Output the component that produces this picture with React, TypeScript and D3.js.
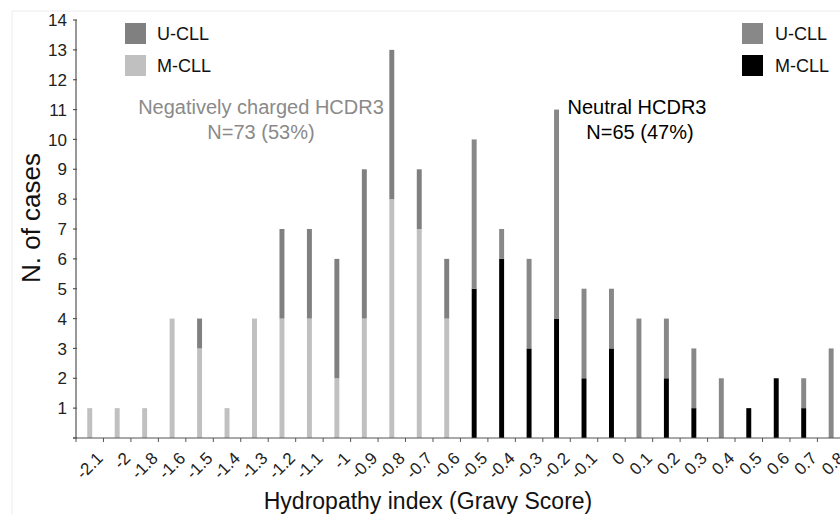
import React from "react";
import * as d3 from "d3";

const categories = ["-2.1","-2","-1.8","-1.6","-1.5","-1.4","-1.3","-1.2","-1.1","-1","-0.9","-0.8","-0.7","-0.6","-0.5","-0.4","-0.3","-0.2","-0.1","0","0.1","0.2","0.3","0.4","0.5","0.6","0.7","0.8"];
const mcllValues = [1,1,1,4,3,1,4,4,4,2,4,8,7,4, 5,6,3,4,2,3,0,2,1,0,1,2,1,0];
const ucllValues = [0,0,0,0,1,0,0,3,3,4,5,5,2,2, 5,1,3,7,3,2,4,2,2,2,0,0,1,3];
const chargeGroup = ["neg","neg","neg","neg","neg","neg","neg","neg","neg","neg","neg","neg","neg","neg","neu","neu","neu","neu","neu","neu","neu","neu","neu","neu","neu","neu","neu","neu"];
const yTicks = [1,2,3,4,5,6,7,8,9,10,11,12,13,14];

const colors: Record<string, { u: string; m: string }> = {
  neg: { u: "#808080", m: "#c0c0c0" },
  neu: { u: "#888888", m: "#000000" },
};

const FONT = "'Liberation Sans', Arial, sans-serif";

export default function App() {
  const W = 840, H = 514;
  const x0 = 76, step = 27.46;
  const x = d3.scaleBand<string>().domain(categories).range([x0, x0 + step * categories.length]).paddingInner(0.82).paddingOuter(0.41);
  const y = d3.scaleLinear().domain([0, 14]).range([438, 20]);
  const bw = x.bandwidth();

  return (
    <svg width={W} height={H} style={{ position: "absolute", left: 0, top: 0, background: "#fff" }} fontFamily={FONT}>
      <rect x={0} y={0} width={W} height={H} fill="#fff" />
      {/* faint frame */}
      <line x1={12} x2={W} y1={11} y2={11} stroke="#ececec" />
      <line x1={12} x2={12} y1={11} y2={H} stroke="#ececec" />

      {/* bars */}
      {categories.map((c, i) => {
        const g = colors[chargeGroup[i]];
        const m = mcllValues[i], u = ucllValues[i];
        const bx = x(c)!;
        return (
          <g key={c}>
            {m > 0 && <rect x={bx} width={bw} y={y(m)} height={y(0) - y(m)} fill={g.m} />}
            {u > 0 && <rect x={bx} width={bw} y={y(m + u)} height={y(m) - y(m + u)} fill={g.u} />}
          </g>
        );
      })}

      {/* y axis */}
      <line x1={x0} x2={x0} y1={y(14)} y2={y(0)} stroke="#555" strokeWidth={1.2} />
      {[0, ...yTicks].map((t) => (
        <line key={"yt" + t} x1={x0 - 3} x2={x0 + 1} y1={y(t)} y2={y(t)} stroke="#555" strokeWidth={1.2} />
      ))}
      {yTicks.map((t) => (
        <text key={"yl" + t} x={67} y={y(t)} dy="0.36em" textAnchor="end" fontSize={17} fill="#222">{t}</text>
      ))}

      {/* x axis */}
      <line x1={x0 - 3} x2={W} y1={y(0)} y2={y(0)} stroke="#555" strokeWidth={1.2} />
      {categories.map((c, i) => (
        <line key={"xt" + c} x1={x0 + step * i} x2={x0 + step * i} y1={y(0)} y2={y(0) + 4} stroke="#555" strokeWidth={1} />
      ))}
      {categories.map((c) => {
        const cx = x(c)! + bw / 2;
        return (
          <text key={"xl" + c} transform={`translate(${cx + 10},${455}) rotate(-45)`} textAnchor="end" dy="0.35em" fontSize={17} fill="#222">{c}</text>
        );
      })}

      {/* axis titles */}
      <text x={428} y={509} textAnchor="middle" fontSize={23} fill="#111">Hydropathy index (Gravy Score)</text>
      <text transform={`translate(40,218) rotate(-90)`} textAnchor="middle" fontSize={26} fill="#111">N. of cases</text>

      {/* left legend */}
      <rect x={125} y={23} width={21} height={21} fill={colors.neg.u} />
      <text x={157} y={40} fontSize={18} fill="#111">U-CLL</text>
      <rect x={125} y={55} width={21} height={21} fill={colors.neg.m} />
      <text x={157} y={72} fontSize={18} fill="#111">M-CLL</text>

      {/* right legend */}
      <rect x={742} y={23} width={21} height={21} fill={colors.neu.u} />
      <text x={775} y={40} fontSize={18} fill="#111">U-CLL</text>
      <rect x={742} y={55} width={21} height={21} fill={colors.neu.m} />
      <text x={775} y={72} fontSize={18} fill="#111">M-CLL</text>

      {/* annotations */}
      <text x={261} y={114} textAnchor="middle" fontSize={20} fill="#8a8a8a">Negatively charged HCDR3</text>
      <text x={261} y={139} textAnchor="middle" fontSize={20} fill="#8a8a8a">N=73 (53%)</text>
      <text x={637} y={114} textAnchor="middle" fontSize={20} fill="#000">Neutral HCDR3</text>
      <text x={640} y={139} textAnchor="middle" fontSize={20} fill="#000">N=65 (47%)</text>
    </svg>
  );
}
